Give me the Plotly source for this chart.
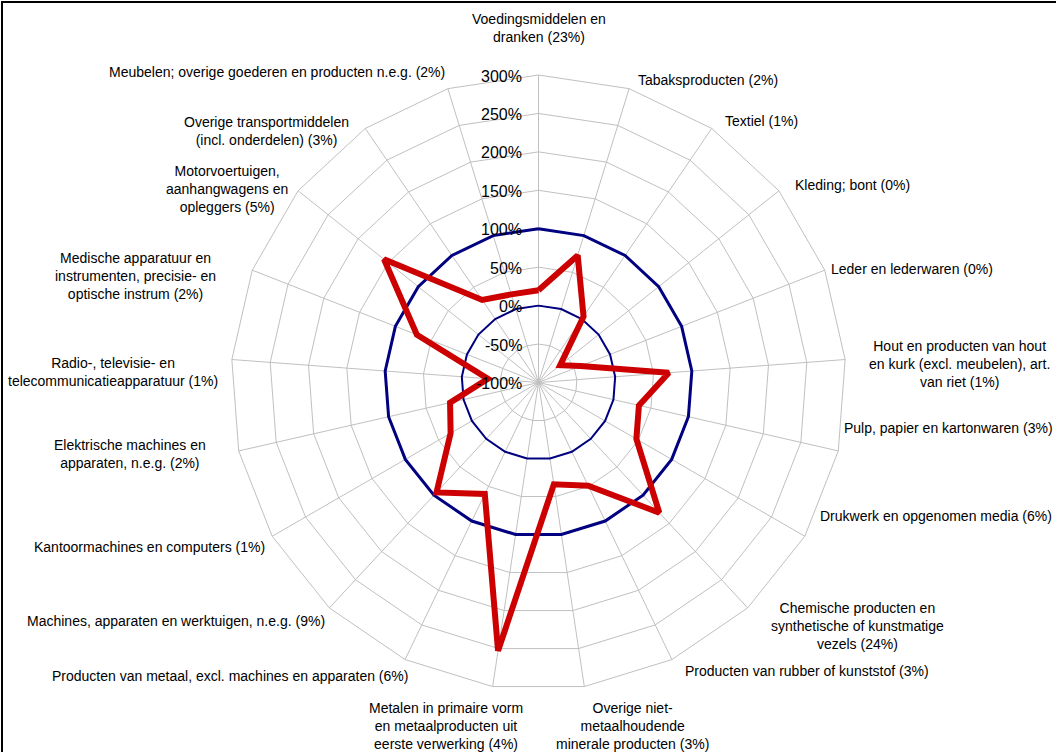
import plotly.graph_objects as go

# categorieen (met aandeel tussen haakjes), met de klok mee vanaf boven
categorieen = [
    "Voedingsmiddelen en<br>dranken (23%)",
    "Tabaksproducten (2%)",
    "Textiel (1%)",
    "Kleding; bont (0%)",
    "Leder en lederwaren (0%)",
    "Hout en producten van hout<br>en kurk (excl. meubelen), art.<br>van riet (1%)",
    "Pulp, papier en kartonwaren (3%)",
    "Drukwerk en opgenomen media (6%)",
    "Chemische producten en<br>synthetische of kunstmatige<br>vezels (24%)",
    "Producten van rubber of kunststof (3%)",
    "Overige niet-<br>metaalhoudende<br>minerale producten (3%)",
    "Metalen in primaire vorm<br>en metaalproducten uit<br>eerste verwerking (4%)",
    "Producten van metaal, excl. machines en apparaten (6%)",
    "Machines, apparaten en werktuigen, n.e.g. (9%)",
    "Kantoormachines en computers (1%)",
    "Elektrische machines en<br>apparaten, n.e.g. (2%)",
    "Radio-, televisie- en<br>telecommunicatieapparatuur (1%)",
    "Medische apparatuur en<br>instrumenten, precisie- en<br>optische instrum (2%)",
    "Motorvoertuigen,<br>aanhangwagens en<br>opleggers (5%)",
    "Overige transportmiddelen<br>(incl. onderdelen) (3%)",
    "Meubelen; overige goederen en producten n.e.g. (2%)",
]

# verandering in procenten
waarden = [20, 73, 4, -64, -41, 70, 34, 47, 131, 49, 34, 253,
           61, 95, 32, 18, -34, 70, 157, 30, 20]

referentie_0 = [0] * len(categorieen)
referentie_100 = [100] * len(categorieen)

radiaal_ticks = [-100, -50, 0, 50, 100, 150, 200, 250, 300]
r_min, r_max = -100, 300

# positie van de labels in pixels (x, y, xanchor)
label_pos = [
    (539, 28, "center"), (636, 80, "left"), (723, 121, "left"),
    (793, 185, "left"), (829, 269, "left"), (959, 364, "center"),
    (842, 428, "left"), (818, 516, "left"), (857, 626, "center"),
    (683, 671, "left"), (632, 726, "center"), (446, 726, "center"),
    (410, 676, "right"), (327, 621, "right"), (267, 547, "right"),
    (130, 454, "center"), (113, 372, "center"), (135, 276, "center"),
    (227, 189, "center"), (266, 131, "center"), (447, 72, "right"),
]

W, H = 1056, 752
cx, cy, R = 538.5, 382.5, 307.5


def sluit(lst):
    return list(lst) + [lst[0]]


fig = go.Figure()

fig.add_trace(go.Scatterpolar(
    r=sluit(referentie_0), theta=sluit(categorieen), mode="lines",
    line=dict(color="#000080", width=2), hoverinfo="skip"))
fig.add_trace(go.Scatterpolar(
    r=sluit(referentie_100), theta=sluit(categorieen), mode="lines",
    line=dict(color="#000080", width=3), hoverinfo="skip"))
fig.add_trace(go.Scatterpolar(
    r=sluit(waarden), theta=sluit(categorieen), mode="lines",
    line=dict(color="#cc0000", width=6)))

annotaties = []
for tekst, (x, y, anc) in zip(categorieen, label_pos):
    annotaties.append(dict(
        x=x / W, y=1 - y / H, xref="paper", yref="paper",
        text=tekst, showarrow=False, xanchor=anc, yanchor="middle",
        align="center", font=dict(size=14, color="black")))

# radiale labels links van de verticale spaak
for v in radiaal_ticks:
    y = cy - (v - r_min) / (r_max - r_min) * R
    annotaties.append(dict(
        x=(cx - 15) / W, y=1 - (y + 1) / H, xref="paper", yref="paper",
        text=f"{v}%", showarrow=False, xanchor="right", yanchor="middle",
        font=dict(size=16, color="black")))

fig.update_layout(
    width=W, height=H,
    margin=dict(l=0, r=0, t=0, b=0),
    paper_bgcolor="white",
    showlegend=False,
    font=dict(family="Liberation Sans, Arial, sans-serif", color="black"),
    polar=dict(
        domain=dict(x=[(cx - R) / W, (cx + R) / W],
                    y=[1 - (cy + R) / H, 1 - (cy - R) / H]),
        bgcolor="white",
        gridshape="linear",
        radialaxis=dict(
            range=[r_min, r_max], tickvals=radiaal_ticks,
            showticklabels=False, angle=90,
            showline=False, ticks="", gridcolor="#c0c0c0", gridwidth=1),
        angularaxis=dict(
            rotation=90, direction="clockwise", showticklabels=False,
            ticks="", gridcolor="#c0c0c0", linecolor="#c0c0c0",
            showline=True, linewidth=1),
    ),
    annotations=annotaties,
    shapes=[dict(type="rect", xref="paper", yref="paper",
                 x0=2 / W, x1=1.05, y0=-0.05, y1=1 - 2 / H,
                 line=dict(color="black", width=2))],
)

fig.write_html("out.html", config={"displayModeBar": False},
               post_script="document.body.style.margin='0';"
                           "document.body.style.overflow='hidden';")
